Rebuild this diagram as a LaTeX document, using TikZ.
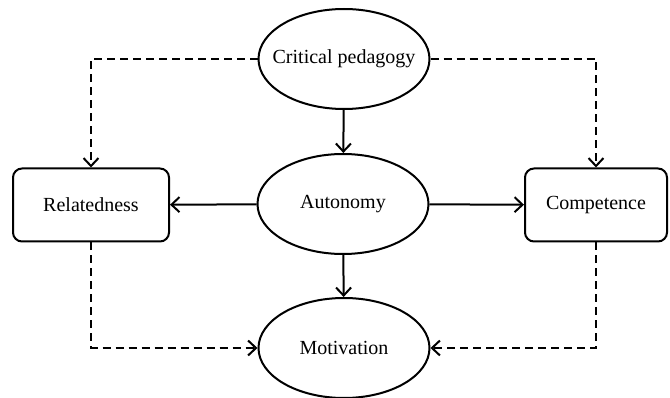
\documentclass[tikz,border=0pt]{standalone}
\usepackage{fontspec}
\setmainfont{Liberation Serif}
\usetikzlibrary{positioning,arrows.meta,shapes.geometric}

\begin{document}
\begin{tikzpicture}[
  x=1pt, y=-1pt,
  concept/.style={ellipse, draw, line width=2pt, inner sep=0pt, minimum width=171pt, minimum height=100pt, font=\fontsize{20}{23}\selectfont},
  need/.style={rectangle, rounded corners=9pt, draw, line width=2pt, minimum height=73pt, font=\fontsize{20}{23}\selectfont},
  direct/.style={-{Straight Barb[length=8pt, width=15pt, line width=2pt]}, line width=2pt},
  indirect/.style={direct, dash pattern=on 8pt off 5pt}
]
\useasboundingbox (0,0) rectangle (670,398);

% ellipses in the middle column
\node[concept] (Critical) at (344,59) {\makebox[0pt]{Critical pedagogy}};
\node[concept] (Autonomy) at (343,204) {\makebox[0pt]{Autonomy}};
\node[concept] (Motivation) at (344,348) {\makebox[0pt]{Motivation}};

% the two needs at the sides
\node[need, minimum width=156pt] (Relatedness) at (91,205) {Relatedness};
\node[need, minimum width=142pt] (Competence) at (596,205) {Competence};

% solid links
\draw[direct] (Critical) -- (Autonomy);
\draw[direct] (Autonomy) -- (Motivation);
\draw[direct] (Autonomy) -- (Relatedness);
\draw[direct] (Autonomy) -- (Competence);

% dashed links
\draw[indirect] (Critical.west) -| (Relatedness.north);
\draw[indirect] (Critical.east) -| (Competence.north);
\draw[indirect] (Relatedness.south) |- (Motivation.west);
\draw[indirect] (Competence.south) |- (Motivation.east);

\end{tikzpicture}
\end{document}
